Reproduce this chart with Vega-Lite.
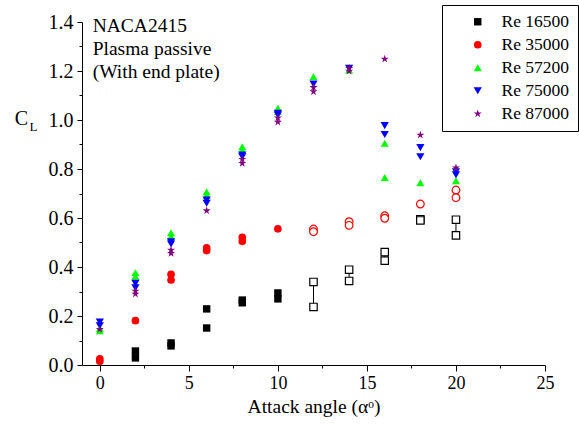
{
  "$schema": "https://vega.github.io/schema/vega-lite/v6.json",
  "width": 463,
  "height": 343,
  "autosize": {"type": "none"},
  "padding": {"left": 82, "top": 22, "right": 34, "bottom": 60},
  "background": "white",
  "config": {
    "font": "Liberation Serif",
    "view": {"stroke": null},
    "axis": {
      "grid": false,
      "domainColor": "black",
      "tickColor": "black",
      "labelColor": "black",
      "titleColor": "black",
      "titleFontWeight": "normal",
      "labelFontSize": 18,
      "titleFontSize": 19,
      "labelFont": "Liberation Serif",
      "titleFont": "Liberation Serif",
      "tickWidth": 1,
      "domainWidth": 1
    },
    "legend": {
      "orient": "none",
      "legendX": 360,
      "legendY": -17,
      "strokeColor": "black",
      "strokeWidth": 1,
      "fillColor": "white",
      "padding": 8,
      "labelFontSize": 17.5,
      "labelFont": "Liberation Serif",
      "labelColor": "black",
      "symbolOffset": 19,
      "labelOffset": 15,
      "rowPadding": 4,
      "symbolStrokeWidth": 0
    }
  },
  "data": {
    "values": [
      {"Re": "Re 16500", "angle": 2, "CL": 0.057},
      {"Re": "Re 16500", "angle": 2, "CL": 0.029},
      {"Re": "Re 16500", "angle": 4, "CL": 0.09},
      {"Re": "Re 16500", "angle": 4, "CL": 0.078},
      {"Re": "Re 16500", "angle": 6, "CL": 0.229},
      {"Re": "Re 16500", "angle": 6, "CL": 0.151},
      {"Re": "Re 16500", "angle": 8, "CL": 0.265},
      {"Re": "Re 16500", "angle": 8, "CL": 0.254},
      {"Re": "Re 16500", "angle": 10, "CL": 0.294},
      {"Re": "Re 16500", "angle": 10, "CL": 0.27},
      {"Re": "Re 16500", "angle": 12, "CL": 0.339},
      {"Re": "Re 16500", "angle": 12, "CL": 0.237},
      {"Re": "Re 16500", "angle": 14, "CL": 0.389},
      {"Re": "Re 16500", "angle": 14, "CL": 0.343},
      {"Re": "Re 16500", "angle": 16, "CL": 0.461},
      {"Re": "Re 16500", "angle": 16, "CL": 0.426},
      {"Re": "Re 16500", "angle": 18, "CL": 0.595},
      {"Re": "Re 16500", "angle": 18, "CL": 0.59},
      {"Re": "Re 16500", "angle": 20, "CL": 0.593},
      {"Re": "Re 16500", "angle": 20, "CL": 0.529},
      {"Re": "Re 35000", "angle": 0, "CL": 0.025},
      {"Re": "Re 35000", "angle": 0, "CL": 0.015},
      {"Re": "Re 35000", "angle": 2, "CL": 0.181},
      {"Re": "Re 35000", "angle": 4, "CL": 0.37},
      {"Re": "Re 35000", "angle": 4, "CL": 0.347},
      {"Re": "Re 35000", "angle": 6, "CL": 0.478},
      {"Re": "Re 35000", "angle": 6, "CL": 0.467},
      {"Re": "Re 35000", "angle": 8, "CL": 0.521},
      {"Re": "Re 35000", "angle": 8, "CL": 0.505},
      {"Re": "Re 35000", "angle": 10, "CL": 0.556},
      {"Re": "Re 35000", "angle": 12, "CL": 0.555},
      {"Re": "Re 35000", "angle": 12, "CL": 0.544},
      {"Re": "Re 35000", "angle": 14, "CL": 0.585},
      {"Re": "Re 35000", "angle": 14, "CL": 0.57},
      {"Re": "Re 35000", "angle": 16, "CL": 0.609},
      {"Re": "Re 35000", "angle": 16, "CL": 0.599},
      {"Re": "Re 35000", "angle": 18, "CL": 0.657},
      {"Re": "Re 35000", "angle": 20, "CL": 0.714},
      {"Re": "Re 35000", "angle": 20, "CL": 0.683},
      {"Re": "Re 57200", "angle": 0, "CL": 0.15},
      {"Re": "Re 57200", "angle": 0, "CL": 0.14},
      {"Re": "Re 57200", "angle": 2, "CL": 0.377},
      {"Re": "Re 57200", "angle": 2, "CL": 0.362},
      {"Re": "Re 57200", "angle": 4, "CL": 0.54},
      {"Re": "Re 57200", "angle": 4, "CL": 0.524},
      {"Re": "Re 57200", "angle": 6, "CL": 0.707},
      {"Re": "Re 57200", "angle": 6, "CL": 0.694},
      {"Re": "Re 57200", "angle": 8, "CL": 0.891},
      {"Re": "Re 57200", "angle": 8, "CL": 0.878},
      {"Re": "Re 57200", "angle": 10, "CL": 1.048},
      {"Re": "Re 57200", "angle": 10, "CL": 1.034},
      {"Re": "Re 57200", "angle": 12, "CL": 1.177},
      {"Re": "Re 57200", "angle": 14, "CL": 1.204},
      {"Re": "Re 57200", "angle": 16, "CL": 0.905},
      {"Re": "Re 57200", "angle": 16, "CL": 0.765},
      {"Re": "Re 57200", "angle": 18, "CL": 0.744},
      {"Re": "Re 57200", "angle": 20, "CL": 0.752},
      {"Re": "Re 75000", "angle": 0, "CL": 0.175},
      {"Re": "Re 75000", "angle": 0, "CL": 0.16},
      {"Re": "Re 75000", "angle": 2, "CL": 0.333},
      {"Re": "Re 75000", "angle": 2, "CL": 0.315},
      {"Re": "Re 75000", "angle": 4, "CL": 0.503},
      {"Re": "Re 75000", "angle": 4, "CL": 0.494},
      {"Re": "Re 75000", "angle": 6, "CL": 0.673},
      {"Re": "Re 75000", "angle": 6, "CL": 0.66},
      {"Re": "Re 75000", "angle": 8, "CL": 0.857},
      {"Re": "Re 75000", "angle": 8, "CL": 0.85},
      {"Re": "Re 75000", "angle": 10, "CL": 1.027},
      {"Re": "Re 75000", "angle": 10, "CL": 1.02},
      {"Re": "Re 75000", "angle": 12, "CL": 1.147},
      {"Re": "Re 75000", "angle": 14, "CL": 1.211},
      {"Re": "Re 75000", "angle": 16, "CL": 0.977},
      {"Re": "Re 75000", "angle": 16, "CL": 0.941},
      {"Re": "Re 75000", "angle": 18, "CL": 0.887},
      {"Re": "Re 75000", "angle": 18, "CL": 0.85},
      {"Re": "Re 75000", "angle": 20, "CL": 0.789},
      {"Re": "Re 75000", "angle": 20, "CL": 0.776},
      {"Re": "Re 87000", "angle": 0, "CL": 0.146},
      {"Re": "Re 87000", "angle": 2, "CL": 0.302},
      {"Re": "Re 87000", "angle": 2, "CL": 0.29},
      {"Re": "Re 87000", "angle": 4, "CL": 0.469},
      {"Re": "Re 87000", "angle": 4, "CL": 0.456},
      {"Re": "Re 87000", "angle": 6, "CL": 0.63},
      {"Re": "Re 87000", "angle": 8, "CL": 0.84},
      {"Re": "Re 87000", "angle": 8, "CL": 0.823},
      {"Re": "Re 87000", "angle": 10, "CL": 1.009},
      {"Re": "Re 87000", "angle": 10, "CL": 0.992},
      {"Re": "Re 87000", "angle": 12, "CL": 1.133},
      {"Re": "Re 87000", "angle": 12, "CL": 1.116},
      {"Re": "Re 87000", "angle": 14, "CL": 1.211},
      {"Re": "Re 87000", "angle": 14, "CL": 1.2},
      {"Re": "Re 87000", "angle": 16, "CL": 1.249},
      {"Re": "Re 87000", "angle": 18, "CL": 0.939},
      {"Re": "Re 87000", "angle": 20, "CL": 0.805}
    ]
  },
  "layer": [
    {
      "transform": [{"filter": "datum.Re == 'Re 16500' && datum.angle >= 12"}],
      "mark": {"type": "rule", "color": "black", "strokeWidth": 1},
      "encoding": {
        "x": {
          "field": "angle", "type": "quantitative",
          "scale": {"domain": [-1, 25], "nice": false, "zero": false},
          "axis": {"orient": "bottom", "values": [2.5, 7.5, 12.5, 17.5, 22.5], "labels": false, "tickSize": 3, "domain": false, "title": null}
        },
        "y": {
          "aggregate": "min", "field": "CL", "type": "quantitative",
          "scale": {"domain": [0, 1.4], "nice": false},
          "axis": {"orient": "left", "values": [0.1, 0.3, 0.5, 0.7, 0.9, 1.1, 1.3], "labels": false, "tickSize": 3, "domain": false,
                   "title": "L", "titleAngle": 0, "titleFontSize": 13, "titleX": -49, "titleY": 104,
                   "titleAlign": "center", "titleBaseline": "middle"}
        },
        "y2": {"aggregate": "max", "field": "CL"}
      }
    },
    {
      "transform": [{"filter": "!(datum.angle >= 12 && (datum.Re == 'Re 16500' || datum.Re == 'Re 35000'))"}],
      "mark": {"type": "point", "filled": true, "opacity": 1},
      "encoding": {
        "x": {
          "field": "angle", "type": "quantitative",
          "scale": {"domain": [-1, 25], "nice": false, "zero": false},
          "axis": {"orient": "bottom", "values": [0, 5, 10, 15, 20, 25], "tickSize": 6, "labelPadding": 3, "labelFlush": false,
                   "labelFontSize": 18, "title": "Attack angle (αᵒ)", "titlePadding": 5, "titleFontSize": 19.5}
        },
        "y": {
          "field": "CL", "type": "quantitative",
          "scale": {"domain": [0, 1.4], "nice": false},
          "axis": {"orient": "left", "values": [0, 0.2, 0.4, 0.6, 0.8, 1.0, 1.2, 1.4], "format": ".1f", "tickSize": 5, "labelPadding": 4,
                   "labelFlush": false, "labelFontSize": 20,
                   "title": "C", "titleAngle": 0, "titleFontSize": 20, "titleX": -61, "titleY": 96,
                   "titleAlign": "center", "titleBaseline": "middle"}
        },
        "color": {
          "field": "Re", "type": "nominal",
          "scale": {"domain": ["Re 16500", "Re 35000", "Re 57200", "Re 75000", "Re 87000"],
                    "range": ["#000000", "#ff0000", "#00ff00", "#0000ff", "#800080"]},
          "legend": {"title": null}
        },
        "shape": {
          "field": "Re", "type": "nominal",
          "scale": {"domain": ["Re 16500", "Re 35000", "Re 57200", "Re 75000", "Re 87000"],
                    "range": ["square", "circle", "triangle-up", "triangle-down",
                              "M0,-1L0.225,-0.309L0.951,-0.309L0.363,0.118L0.588,0.809L0,0.382L-0.588,0.809L-0.363,0.118L-0.951,-0.309L-0.225,-0.309Z"]},
          "legend": {"title": null}
        },
        "size": {
          "field": "Re", "type": "nominal",
          "scale": {"domain": ["Re 16500", "Re 35000", "Re 57200", "Re 75000", "Re 87000"],
                    "range": [55, 72, 125, 125, 340]},
          "legend": null
        }
      }
    },
    {
      "transform": [{"filter": "datum.angle >= 12 && (datum.Re == 'Re 16500' || datum.Re == 'Re 35000')"}],
      "mark": {"type": "point", "filled": true, "fill": "white", "strokeWidth": 1.2, "opacity": 1},
      "encoding": {
        "x": {"field": "angle", "type": "quantitative", "scale": {"domain": [-1, 25], "nice": false, "zero": false}, "axis": null},
        "y": {"field": "CL", "type": "quantitative", "scale": {"domain": [0, 1.4], "nice": false}, "axis": null},
        "stroke": {
          "field": "Re", "type": "nominal",
          "scale": {"domain": ["Re 16500", "Re 35000"], "range": ["#000000", "#ff0000"]},
          "legend": null
        },
        "shape": {
          "field": "Re", "type": "nominal",
          "scale": {"domain": ["Re 16500", "Re 35000", "Re 57200", "Re 75000", "Re 87000"],
                    "range": ["square", "circle", "triangle-up", "triangle-down",
                              "M0,-1L0.225,-0.309L0.951,-0.309L0.363,0.118L0.588,0.809L0,0.382L-0.588,0.809L-0.363,0.118L-0.951,-0.309L-0.225,-0.309Z"]},
          "legend": {"title": null}
        },
        "size": {
          "field": "Re", "type": "nominal",
          "scale": {"domain": ["Re 16500", "Re 35000", "Re 57200", "Re 75000", "Re 87000"],
                    "range": [55, 72, 125, 125, 340]},
          "legend": null
        }
      }
    },
    {
      "data": {"values": [{"note": "NACA2415\nPlasma passive\n(With end plate)"}]},
      "mark": {"type": "text", "align": "left", "baseline": "alphabetic", "fontSize": 19.5, "lineBreak": "\n", "lineHeight": 23, "color": "black"},
      "encoding": {
        "x": {"datum": -0.4, "type": "quantitative", "scale": {"domain": [-1, 25], "nice": false, "zero": false}, "axis": null},
        "y": {"datum": 1.359, "type": "quantitative", "scale": {"domain": [0, 1.4], "nice": false}, "axis": null},
        "text": {"field": "note"}
      }
    }
  ],
  "resolve": {"axis": {"x": "independent", "y": "independent"}}
}
